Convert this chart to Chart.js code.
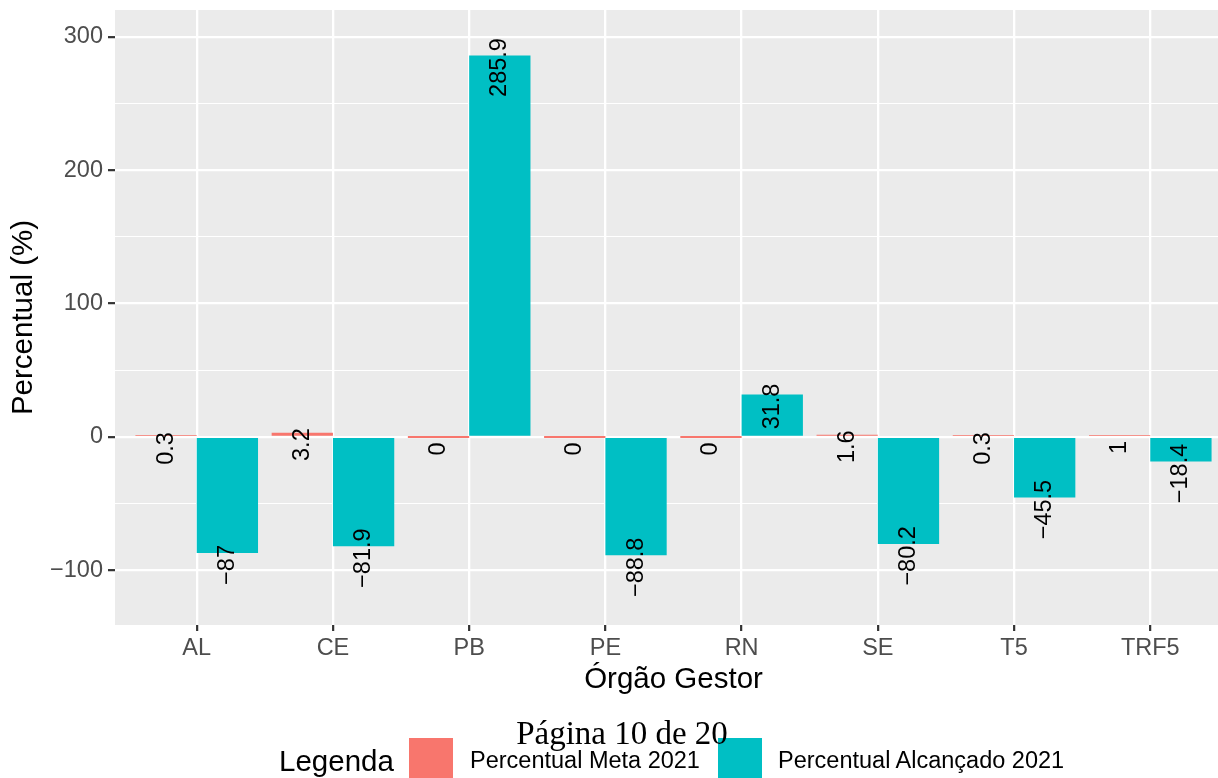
<!DOCTYPE html>
<html>
<head>
<meta charset="utf-8">
<script src="https://cdn.jsdelivr.net/npm/chart.js@4/dist/chart.umd.min.js"></script>
<style>
  html, body { margin: 0; padding: 0; overflow: hidden; background: #fff; }
  #wrap { position: relative; width: 1218px; height: 778px; overflow: hidden; }
  #myChart { position: absolute; left: 0; top: 0; }
  .txt { position: absolute; font-family: "Liberation Sans", Arial, sans-serif; white-space: nowrap; }
  .key { position: absolute; width: 44px; height: 44px; }
  #pagina { position: absolute; left: 0; width: 1244px; top: 715px; text-align: center;
            font-family: "Liberation Serif", "DejaVu Serif", serif; font-size: 33px; color: #000; z-index: 5; }
</style>
</head>
<body>
<div id="wrap">
  <canvas id="myChart" width="1232" height="778"></canvas>
  <div class="txt" id="legTitle" style="left:279px; top:744px; font-size:29.5px;">Legenda</div>
  <div class="key" id="key0" style="left:409px; top:738px;"></div>
  <div class="txt" id="leg0" style="left:470px; top:747px; font-size:23.5px;"></div>
  <div class="key" id="key1" style="left:718px; top:738px;"></div>
  <div class="txt" id="leg1" style="left:778px; top:747px; font-size:23.5px;"></div>
  <div id="pagina">Página 10 de 20</div>
</div>
<script>
// dados
var categorias = ['AL', 'CE', 'PB', 'PE', 'RN', 'SE', 'T5', 'TRF5'];
var meta2021 = [0.3, 3.2, 0, 0, 0, 1.6, 0.3, 1];
var alcancado2021 = [-87, -81.9, 285.9, -88.8, 31.8, -80.2, -45.5, -18.4];
var series = ['Percentual Meta 2021', 'Percentual Alcançado 2021'];
var cores = ['#F8766D', '#00BFC4'];
var yTicks = [-100, 0, 100, 200, 300];

var fonte = '"Liberation Sans", Arial, sans-serif';

function menos(v) {
  return String(v).replace('-', '\u2212');
}

function pontos(vals) {
  return vals.map(function (v, i) { return { x: i + 1, y: v }; });
}

// legenda em html
document.getElementById('leg0').textContent = series[0];
document.getElementById('leg1').textContent = series[1];
document.getElementById('key0').style.background = cores[0];
document.getElementById('key1').style.background = cores[1];

// fundo cinza do painel
var fundoPainel = {
  id: 'fundoPainel',
  beforeDraw: function (chart) {
    var a = chart.chartArea;
    var c = chart.ctx;
    c.save();
    c.fillStyle = '#EBEBEB';
    c.fillRect(a.left, a.top, a.right - a.left, a.bottom - a.top);
    c.restore();
  }
};

// rotulos girados nas barras
var rotulos = {
  id: 'rotulos',
  afterDatasetsDraw: function (chart) {
    var c = chart.ctx;
    var a = chart.chartArea;
    var ys = chart.scales.y;
    c.save();
    c.beginPath();
    c.rect(a.left, a.top, a.right - a.left, a.bottom - a.top);
    c.clip();
    c.fillStyle = '#000';
    c.font = '23.5px ' + fonte;
    c.textAlign = 'center';
    c.textBaseline = 'middle';
    chart.data.datasets.forEach(function (ds, d) {
      var m = chart.getDatasetMeta(d);
      m.data.forEach(function (bar, i) {
        var v = ds.data[i].y;
        var py = ys.getPixelForValue(v) + 12;
        c.save();
        c.translate(bar.x, py);
        c.rotate(-Math.PI / 2);
        c.fillText(menos(v), 0, 0);
        c.restore();
      });
    });
    c.restore();
  }
};

var ctx = document.getElementById('myChart').getContext('2d');

var myChart = new Chart(ctx, {
  type: 'bar',
  data: {
    datasets: [{
      label: series[0],
      data: pontos(meta2021),
      backgroundColor: cores[0],
      minBarLength: 2,
      categoryPercentage: 0.9,
      barPercentage: 1.0
    }, {
      label: series[1],
      data: pontos(alcancado2021),
      backgroundColor: cores[1],
      categoryPercentage: 0.9,
      barPercentage: 1.0
    }]
  },
  options: {
    responsive: false,
    animation: false,
    layout: { padding: { top: 10, right: 0, bottom: 75, left: 0 } },
    plugins: {
      legend: { display: false },
      tooltip: { enabled: false }
    },
    scales: {
      x: {
        type: 'linear',
        min: 0.4,
        max: 8.6,
        offset: false,
        border: { display: false },
        grid: { offset: false, color: '#FFFFFF', lineWidth: 2.3, tickColor: '#333333', tickWidth: 2.2, tickLength: 6 },
        ticks: {
          stepSize: 1,
          includeBounds: false,
          autoSkip: false,
          maxRotation: 0,
          padding: 3,
          color: '#4D4D4D',
          font: { family: fonte, size: 23.5 },
          callback: function (v) {
            return categorias[v - 1] || '';
          }
        },
        title: {
          display: true,
          text: 'Órgão Gestor',
          color: '#000',
          font: { family: fonte, size: 29.5, lineHeight: 1.2 },
          padding: { top: 0, bottom: 5 }
        },
        afterFit: function (s) {
          s.height = 78;
          s.paddingLeft = 0;
          s.paddingRight = 0;
        }
      },
      y: {
        min: -141,
        max: 320,
        border: { display: false },
        grid: {
          color: '#FFFFFF',
          lineWidth: function (c) { return c.tick && yTicks.indexOf(c.tick.value) >= 0 ? 2.3 : 1.1; },
          tickColor: function (c) { return c.tick && yTicks.indexOf(c.tick.value) >= 0 ? '#333333' : 'rgba(0,0,0,0)'; },
          tickWidth: 2.2,
          tickLength: 7
        },
        ticks: {
          stepSize: 50,
          includeBounds: false,
          padding: 5,
          color: '#4D4D4D',
          font: { family: fonte, size: 23.5 },
          callback: function (v) {
            return yTicks.indexOf(v) >= 0 ? menos(v) : '';
          }
        },
        title: {
          display: true,
          text: 'Percentual (%)',
          color: '#000',
          font: { family: fonte, size: 29.5, lineHeight: 1.2 },
          padding: { top: 6, bottom: 0 }
        },
        afterFit: function (s) {
          s.width = 115;
          s.paddingTop = 0;
          s.paddingBottom = 0;
        }
      }
    }
  },
  plugins: [fundoPainel, rotulos]
});
</script>
</body>
</html>
